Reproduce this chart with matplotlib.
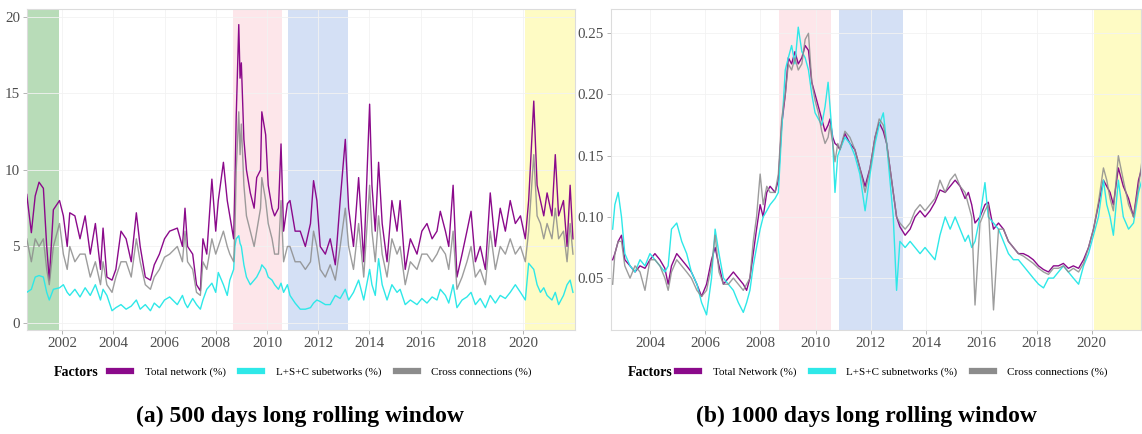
import matplotlib.pyplot as plt
from matplotlib.lines import Line2D

plt.rcParams['font.family'] = ['Liberation Serif', 'DejaVu Serif']

# ---- panel (a): 500 days rolling window ----
years_a = [
    2000.62, 2000.8, 2000.95, 2001.1, 2001.27, 2001.4, 2001.5, 2001.66, 2001.9, 2002.05,
    2002.2, 2002.3, 2002.5, 2002.7, 2002.9, 2003.1, 2003.3, 2003.5, 2003.6, 2003.75,
    2003.95, 2004.1, 2004.3, 2004.5, 2004.7, 2004.9, 2005.05, 2005.25, 2005.45, 2005.6,
    2005.8, 2006.0, 2006.2, 2006.5, 2006.7, 2006.8, 2006.9, 2007.1, 2007.25, 2007.4,
    2007.5, 2007.65, 2007.85, 2008.0, 2008.1, 2008.3, 2008.45, 2008.55, 2008.7, 2008.75,
    2008.8, 2008.9, 2008.95, 2009.0, 2009.1, 2009.2, 2009.35, 2009.5, 2009.6, 2009.75,
    2009.8, 2009.95, 2010.05, 2010.2, 2010.3, 2010.45, 2010.55, 2010.65, 2010.8, 2010.9,
    2011.1, 2011.3, 2011.5, 2011.7, 2011.82, 2011.95, 2012.08, 2012.28, 2012.47, 2012.67,
    2012.86, 2013.06, 2013.19, 2013.38, 2013.58, 2013.78, 2014.01, 2014.1, 2014.23, 2014.36,
    2014.5, 2014.69, 2014.88, 2015.08, 2015.2, 2015.4, 2015.6, 2015.86, 2016.05, 2016.25,
    2016.45, 2016.64, 2016.77, 2016.97, 2017.1, 2017.27, 2017.42, 2017.62, 2017.81, 2017.97,
    2018.14, 2018.33, 2018.53, 2018.72, 2018.92, 2019.11, 2019.31, 2019.5, 2019.7, 2019.9,
    2020.09, 2020.22, 2020.42, 2020.55, 2020.68, 2020.81, 2020.94, 2021.13, 2021.26, 2021.39,
    2021.58, 2021.72, 2021.84, 2021.95,
]
total_a = [
    8.4, 5.9, 8.3, 9.2, 8.8, 5.0, 2.8, 7.4, 8.0, 7.0,
    5.0, 7.2, 7.0, 5.5, 7.0, 4.5, 6.5, 3.5, 6.2, 3.0,
    2.8, 3.5, 6.0, 5.5, 4.0, 7.2, 5.0, 3.0, 2.8, 3.8,
    4.5, 5.5, 6.0, 6.2, 5.0, 7.5, 5.0, 4.5, 2.5, 2.1,
    5.5, 4.5, 9.4, 6.0, 8.0, 10.5, 8.0, 7.0, 5.5, 9.0,
    13.5, 19.5, 16.0, 17.0, 12.0, 10.0, 8.5, 7.5, 9.5, 10.0,
    13.8, 12.3, 9.0, 7.5, 7.0, 7.5, 11.7, 6.0, 7.8, 8.0,
    6.0, 6.0, 5.0, 6.5, 9.3, 8.0, 5.0, 4.5, 5.5, 3.8,
    8.0, 12.0, 7.5, 5.0, 9.5, 4.0, 14.3, 9.0, 6.0, 10.5,
    6.5, 4.0, 8.0, 6.0, 8.0, 3.5, 5.5, 4.5, 6.0, 6.5,
    5.5, 6.0, 7.3, 6.0, 5.0, 9.0, 3.0, 4.5, 6.0, 7.3,
    4.0, 5.0, 3.5, 8.5, 5.0, 7.5, 6.0, 8.0, 6.5, 7.0,
    5.5, 8.0, 14.5, 9.0, 8.0, 7.0, 8.5, 7.0, 11.0, 7.0,
    8.0, 5.0, 9.0, 5.5,
]
sub_a = [
    2.0, 2.2, 3.0, 3.1, 3.0, 2.0, 1.5, 2.2, 2.3, 2.5,
    2.0, 1.8, 2.2, 1.7, 2.3, 1.8, 2.5, 1.5, 2.2, 1.8,
    0.8, 1.0, 1.2, 0.9, 1.1, 1.5, 0.9, 1.2, 0.8, 1.3,
    1.0, 1.5, 1.7, 1.2, 1.8, 1.3, 1.0, 1.6, 1.2, 0.9,
    1.5, 2.2, 2.6, 2.0, 3.3, 2.5, 1.8, 2.8, 3.5, 5.0,
    5.5, 5.7, 5.2, 5.0, 3.8, 3.0, 2.5, 2.8, 3.0, 3.5,
    3.8, 3.5, 3.0, 2.8, 2.5, 2.2, 2.6, 2.0, 2.5, 1.8,
    1.3, 0.9, 0.9, 1.0, 1.3, 1.5, 1.4, 1.2, 1.2, 1.8,
    1.6, 2.2, 1.5, 2.0, 2.8, 1.5, 3.5, 2.5, 1.8, 4.2,
    2.5, 1.5, 2.5, 2.0, 2.2, 1.2, 1.5, 1.2, 1.6, 1.3,
    1.7, 1.5, 2.2, 1.8, 1.3, 2.5, 1.0, 1.5, 1.7, 2.0,
    1.2, 1.6, 1.0, 1.8, 1.3, 1.8, 1.6, 2.0, 2.5, 2.0,
    1.5, 3.9, 3.5, 2.5, 2.0, 2.3, 1.8, 1.5, 2.0, 1.2,
    1.8, 2.5, 2.8, 2.0,
]
cross_a = [
    5.5, 4.0, 5.5, 5.0, 5.5, 3.5, 2.5, 5.0, 6.5, 4.5,
    3.5, 5.0, 4.0, 4.5, 4.5, 3.0, 4.0, 2.5, 4.0, 2.5,
    2.0, 3.0, 4.0, 4.0, 3.0, 5.5, 4.0, 2.5, 2.2, 3.0,
    3.5, 4.3, 4.5, 5.0, 4.0, 6.0, 4.0, 3.5, 2.0, 1.8,
    4.0, 3.5, 5.5, 4.5, 5.0, 6.0, 5.0, 4.5, 4.0, 6.0,
    10.0, 13.8, 11.0, 13.0, 9.0, 7.0, 6.0, 5.0, 6.0, 7.5,
    9.5, 8.0, 6.5, 5.5, 4.5, 4.5, 8.0, 4.0, 5.0, 5.0,
    4.0, 4.0, 3.5, 4.0, 6.0, 5.0, 3.5, 3.0, 3.8, 2.8,
    5.0, 7.5, 5.0, 3.5, 6.5, 3.0, 9.0, 6.0, 4.0, 7.0,
    4.5, 3.0, 5.5, 4.5, 5.0, 2.5, 4.0, 3.5, 4.5, 4.5,
    4.0, 4.5, 5.0, 4.5, 3.5, 6.0, 2.2, 3.0, 4.0, 5.0,
    3.0, 3.5, 2.5, 6.0, 3.5, 5.0, 4.5, 5.5, 4.5, 5.0,
    4.0, 6.0, 11.0, 7.0, 6.5, 5.5, 6.5, 5.5, 7.5, 5.5,
    6.0, 4.0, 6.5, 4.5,
]

# ---- panel (b): 1000 days rolling window ----
years_b = [
    2002.65, 2002.73, 2002.85, 2002.97, 2003.09, 2003.28, 2003.46, 2003.64, 2003.82, 2004.0,
    2004.18, 2004.36, 2004.54, 2004.66, 2004.78, 2004.97, 2005.15, 2005.33, 2005.5, 2005.7,
    2005.87, 2006.05, 2006.23, 2006.36, 2006.5, 2006.66, 2006.84, 2007.02, 2007.2, 2007.38,
    2007.5, 2007.62, 2007.74, 2007.86, 2007.99, 2008.1, 2008.23, 2008.35, 2008.53, 2008.65,
    2008.77, 2008.9, 2009.01, 2009.13, 2009.25, 2009.37, 2009.5, 2009.62, 2009.74, 2009.86,
    2009.98, 2010.1, 2010.22, 2010.34, 2010.45, 2010.52, 2010.62, 2010.7, 2010.8, 2010.88,
    2011.06, 2011.24, 2011.42, 2011.6, 2011.79, 2011.97, 2012.15, 2012.3, 2012.45, 2012.57,
    2012.69, 2012.81, 2012.93, 2013.05, 2013.24, 2013.42, 2013.6, 2013.78, 2013.96, 2014.14,
    2014.32, 2014.5, 2014.69, 2014.87, 2015.05, 2015.23, 2015.41, 2015.53, 2015.65, 2015.77,
    2015.95, 2016.13, 2016.25, 2016.44, 2016.62, 2016.8, 2016.98, 2017.16, 2017.34, 2017.52,
    2017.7, 2017.88, 2018.07, 2018.25, 2018.43, 2018.61, 2018.79, 2018.97, 2019.15, 2019.33,
    2019.52, 2019.7, 2019.88, 2020.06, 2020.24, 2020.42, 2020.54, 2020.66, 2020.78, 2020.96,
    2021.14, 2021.33, 2021.51, 2021.69, 2021.81,
]
total_b = [
    0.065, 0.070, 0.080, 0.085, 0.065, 0.060, 0.055, 0.060, 0.058, 0.065,
    0.070, 0.065, 0.058, 0.045, 0.060, 0.070, 0.065, 0.060, 0.055, 0.045,
    0.035, 0.045, 0.065, 0.075, 0.060, 0.045, 0.050, 0.055, 0.050, 0.045,
    0.040, 0.050, 0.070, 0.090, 0.110, 0.100, 0.120, 0.125, 0.120, 0.130,
    0.175, 0.200, 0.230, 0.225, 0.235, 0.225, 0.230, 0.240, 0.236, 0.210,
    0.200, 0.190, 0.180, 0.170, 0.175, 0.180, 0.165, 0.160, 0.158, 0.155,
    0.168, 0.160, 0.155, 0.140, 0.125, 0.140, 0.165, 0.177, 0.170, 0.160,
    0.140, 0.120, 0.100, 0.092, 0.085, 0.090, 0.100, 0.105, 0.100, 0.105,
    0.112, 0.122, 0.120, 0.125, 0.130, 0.125, 0.115, 0.120, 0.110, 0.095,
    0.100, 0.110, 0.112, 0.090, 0.095, 0.090, 0.080, 0.075, 0.070, 0.070,
    0.068, 0.065, 0.060, 0.057, 0.055, 0.060, 0.060, 0.062, 0.058, 0.060,
    0.058, 0.065, 0.075, 0.090, 0.110, 0.130, 0.125, 0.120, 0.110, 0.140,
    0.125, 0.115, 0.100, 0.130, 0.140,
]
sub_b = [
    0.090, 0.110, 0.120, 0.100, 0.070, 0.060, 0.055, 0.065, 0.060, 0.070,
    0.065, 0.060, 0.055, 0.060, 0.090, 0.095, 0.080, 0.070, 0.055, 0.045,
    0.030, 0.020, 0.050, 0.090, 0.070, 0.050, 0.045, 0.040, 0.030, 0.022,
    0.030, 0.040, 0.060, 0.075, 0.090, 0.100, 0.105, 0.110, 0.115, 0.120,
    0.170, 0.220, 0.230, 0.240, 0.225, 0.255, 0.235, 0.230, 0.220, 0.200,
    0.185, 0.180, 0.175, 0.190, 0.210, 0.190, 0.160, 0.120, 0.150, 0.155,
    0.165, 0.160, 0.150, 0.135, 0.105, 0.135, 0.160, 0.175, 0.185, 0.160,
    0.130, 0.100, 0.040, 0.080, 0.075, 0.080, 0.075, 0.070, 0.075, 0.070,
    0.065, 0.085, 0.100, 0.090, 0.100, 0.090, 0.080, 0.085, 0.075, 0.080,
    0.100, 0.128, 0.100, 0.095, 0.090, 0.080, 0.070, 0.065, 0.065, 0.060,
    0.055, 0.050, 0.045, 0.042, 0.050, 0.050, 0.055, 0.060, 0.055, 0.050,
    0.045, 0.060, 0.070, 0.085, 0.100, 0.130, 0.110, 0.100, 0.085, 0.130,
    0.100, 0.090, 0.095, 0.120, 0.130,
]
cross_b = [
    0.045, 0.070, 0.080, 0.080, 0.060, 0.050, 0.060, 0.055, 0.040, 0.065,
    0.065, 0.060, 0.050, 0.040, 0.055, 0.065, 0.060, 0.055, 0.050, 0.040,
    0.035, 0.040, 0.060, 0.085, 0.055, 0.045, 0.045, 0.050, 0.045, 0.040,
    0.045, 0.050, 0.080, 0.100, 0.135, 0.110, 0.125, 0.120, 0.120, 0.135,
    0.180, 0.200, 0.225, 0.220, 0.230, 0.220, 0.225, 0.245, 0.250, 0.210,
    0.195, 0.185, 0.170, 0.160, 0.165, 0.175, 0.160, 0.145, 0.160, 0.155,
    0.170, 0.165, 0.155, 0.140, 0.120, 0.140, 0.165, 0.180, 0.175, 0.160,
    0.140, 0.120, 0.100, 0.095, 0.090, 0.095, 0.105, 0.110, 0.105, 0.110,
    0.115, 0.130, 0.120, 0.130, 0.135, 0.125, 0.120, 0.110, 0.100, 0.028,
    0.095, 0.105, 0.110, 0.024, 0.090, 0.090, 0.080, 0.075, 0.070, 0.068,
    0.065, 0.062, 0.058, 0.055, 0.053, 0.058, 0.058, 0.060, 0.055, 0.058,
    0.055, 0.062, 0.075, 0.090, 0.112, 0.140, 0.130, 0.115, 0.105, 0.150,
    0.130, 0.110, 0.100, 0.125, 0.145,
]

# crisis periods shaded in both panels
band_starts = [2000.0, 2008.69, 2010.84, 2020.07]
band_ends = [2001.88, 2010.57, 2013.17, 2023.0]
band_colors = ['#b8dcb8', '#fde6ea', '#d4e0f5', '#fefbc4']

year_ticks = list(range(2002, 2022, 2))
colors = {'total': '#8b0a8b', 'sub': '#2ee8e8', 'cross': '#8c8c8c'}


def draw_panel(ax, years, total, sub, cross, xlim, ylim, yticks, ylabels):
    for s, e, c in zip(band_starts, band_ends, band_colors):
        ax.axvspan(s, e, color=c, lw=0, zorder=0)
    ax.plot(years, total, color=colors['total'], lw=1.0, zorder=3)
    ax.plot(years, sub, color=colors['sub'], lw=1.0, zorder=3)
    ax.plot(years, cross, color=colors['cross'], lw=1.0, alpha=0.85, zorder=4)
    ax.set_xticks([y for y in year_ticks if xlim[0] <= y <= xlim[1]])
    ax.set_yticks(yticks)
    ax.set_yticklabels(ylabels)
    ax.set_xlim(*xlim)
    ax.set_ylim(*ylim)
    ax.grid(True, color='#f2f2f2', lw=0.6, zorder=0)
    ax.set_axisbelow(True)
    for sp in ax.spines.values():
        sp.set_color('#dcdcdc')
        sp.set_linewidth(0.8)
    ax.tick_params(length=3, width=0.6, color='#aaaaaa', labelsize=10.8,
                   labelcolor='#4d4d4d', pad=2)


W, H = 1142, 434
fig = plt.figure(figsize=(W / 100, H / 100), dpi=100)
ax_a = fig.add_axes([27 / W, (H - 330) / H, 548 / W, 320.7 / H])
ax_b = fig.add_axes([611 / W, (H - 330) / H, 530 / W, 320.7 / H])

draw_panel(ax_a, years_a, total_a, sub_a, cross_a, (2000.63, 2022.03), (-0.46, 20.5),
           [0, 5, 10, 15, 20], ['0', '5', '10', '15', '20'])
draw_panel(ax_b, years_b, total_b, sub_b, cross_b, (2002.59, 2021.78), (0.0076, 0.2696),
           [0.05, 0.10, 0.15, 0.20, 0.25], ['0.05', '0.10', '0.15', '0.20', '0.25'])


def add_legend(x_factors, x_keys, labels):
    fig.text(x_factors / W, (H - 372) / H, 'Factors', fontsize=10, fontweight='bold',
             ha='left', va='center')
    handles = [Line2D([], [], color=colors[k], lw=4.5) for k in ('total', 'sub', 'cross')]
    fig.legend(handles, labels, loc='center left', bbox_to_anchor=(x_keys / W, (H - 372) / H),
               ncol=3, frameon=False, fontsize=8, handlelength=2.0, handletextpad=1.2,
               columnspacing=1.3, borderpad=0, borderaxespad=0)


add_legend(54, 109, ['Total network (%)', 'L+S+C subetworks (%)', 'Cross connections (%)'])
add_legend(628, 677, ['Total Network (%)', 'L+S+C subnetworks (%)', 'Cross connections (%)'])

fig.text(300 / W, (H - 416) / H, '(a) 500 days long rolling window', fontsize=17,
         fontweight='bold', ha='center', va='center')
fig.text(866 / W, (H - 416) / H, '(b) 1000 days long rolling window', fontsize=17,
         fontweight='bold', ha='center', va='center')

fig.savefig('out.png', dpi=100)
